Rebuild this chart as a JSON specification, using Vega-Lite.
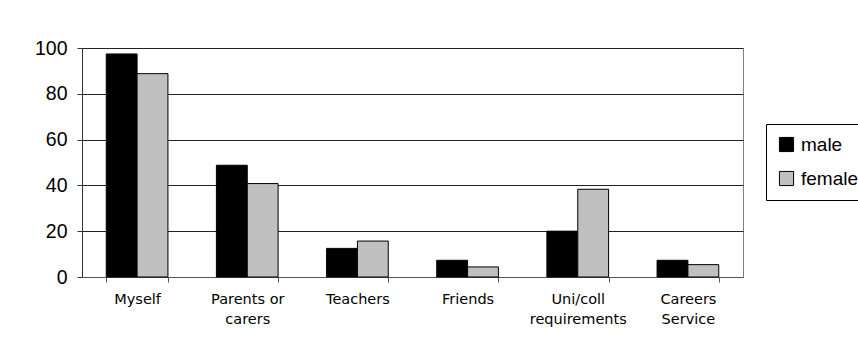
{
  "$schema": "https://vega.github.io/schema/vega-lite/v6.json",
  "width": 661,
  "height": 229,
  "autosize": "none",
  "padding": {"left": 82, "top": 48, "right": 115, "bottom": 72},
  "background": "white",
  "data": {
    "values": [
      {"source": "Myself", "sex": "male", "value": 97.4},
      {"source": "Myself", "sex": "female", "value": 88.8},
      {"source": "Parents or carers", "sex": "male", "value": 48.8},
      {"source": "Parents or carers", "sex": "female", "value": 40.8},
      {"source": "Teachers", "sex": "male", "value": 12.5},
      {"source": "Teachers", "sex": "female", "value": 15.7},
      {"source": "Friends", "sex": "male", "value": 7.3},
      {"source": "Friends", "sex": "female", "value": 4.4},
      {"source": "Uni/coll requirements", "sex": "male", "value": 20.0},
      {"source": "Uni/coll requirements", "sex": "female", "value": 38.3},
      {"source": "Careers Service", "sex": "male", "value": 7.3},
      {"source": "Careers Service", "sex": "female", "value": 5.4}
    ]
  },
  "mark": {"type": "bar", "stroke": "black", "strokeWidth": 1},
  "encoding": {
    "x": {
      "field": "source",
      "type": "nominal",
      "sort": null,
      "title": null,
      "scale": {"paddingInner": 0.44, "paddingOuter": 0.22},
      "axis": {
        "labelAngle": 0,
        "labelFont": "DejaVu Sans",
        "labelFontSize": 14.5,
        "labelColor": "black",
        "labelPadding": 10,
        "labelLineHeight": 20,
        "labelBaseline": "top",
        "tickBand": "extent",
        "tickSize": 5,
        "tickColor": "#555",
        "domainColor": "#555",
        "labelExpr": "datum.value == 'Parents or carers' ? ['Parents or', 'carers'] : datum.value == 'Uni/coll requirements' ? ['Uni/coll', 'requirements'] : datum.value == 'Careers Service' ? ['Careers', 'Service'] : datum.value"
      }
    },
    "xOffset": {
      "field": "sex",
      "type": "nominal",
      "sort": ["male", "female"],
      "scale": {"paddingInner": 0, "paddingOuter": 0}
    },
    "y": {
      "field": "value",
      "type": "quantitative",
      "title": null,
      "scale": {"domain": [0, 100], "nice": false},
      "axis": {
        "values": [0, 20, 40, 60, 80, 100],
        "labelFont": "Liberation Sans",
        "labelFontSize": 19.5,
        "labelColor": "black",
        "labelPadding": 10,
        "tickSize": 5,
        "tickColor": "#333",
        "domainColor": "#333",
        "grid": true,
        "gridColor": "#222",
        "gridOpacity": 1
      }
    },
    "color": {
      "field": "sex",
      "type": "nominal",
      "sort": ["male", "female"],
      "scale": {"domain": ["male", "female"], "range": ["#000000", "#C0C0C0"]},
      "legend": {
        "title": null,
        "orient": "none",
        "legendX": 684,
        "legendY": 76,
        "strokeColor": "black",
        "fillColor": "white",
        "padding": 11,
        "symbolType": "square",
        "symbolSize": 200,
        "symbolStrokeColor": "black",
        "symbolStrokeWidth": 1,
        "symbolOpacity": 1,
        "labelFont": "Liberation Sans",
        "labelFontSize": 19,
        "labelColor": "black",
        "labelOffset": 5,
        "labelLimit": 200,
        "rowPadding": 14
      }
    }
  },
  "config": {
    "view": {"stroke": "#808080", "strokeWidth": 1},
    "axis": {"gridColor": "#222"}
  }
}
